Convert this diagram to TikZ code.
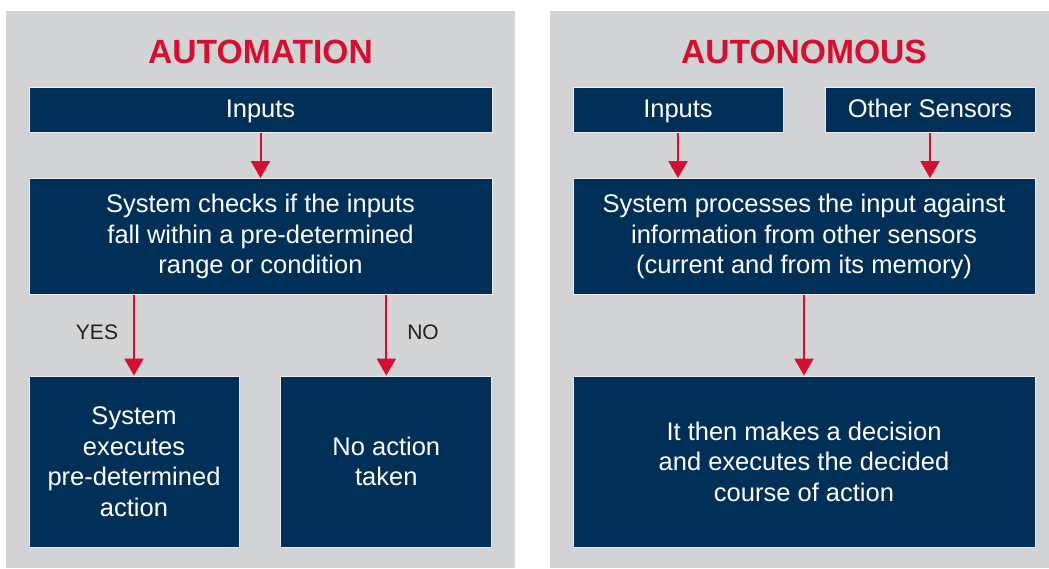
\documentclass[tikz,border=0pt]{standalone}
\usepackage{fontspec}
\setmainfont{Liberation Sans}
\usetikzlibrary{arrows.meta}
\definecolor{navy}{HTML}{003057}
\definecolor{panelgray}{HTML}{D1D3D4}
\definecolor{ared}{HTML}{D50F32}
\definecolor{lbl}{HTML}{231F20}
\tikzset{
  panel/.style={fill=panelgray, draw=none},
  box/.style={fill=navy, draw=white!85!gray, line width=0.8pt, text=white, align=center,
    inner sep=0pt, font=\fontsize{25.5}{30.5}\selectfont},
  onebox/.style={box, text height=19pt, text depth=5pt},
  ttl/.style={text=ared, font=\bfseries\fontsize{33.6}{40}\selectfont, anchor=base, inner sep=0pt},
  lab/.style={text=lbl, font=\fontsize{21}{25}\selectfont, inner sep=0pt},
  redarrow/.style={draw=ared, line width=2pt, -{Triangle[width=19pt,length=17pt]}}
}
\begin{document}
\begin{tikzpicture}[x=1pt,y=-1pt]
\useasboundingbox (0,0) rectangle (1049,568);
\fill[panel] (6,11) rectangle (515,568);
\fill[panel] (550,11) rectangle (1049,568);
% left panel
\node[ttl] (t1) at (260.5,63) {AUTOMATION};
\node[onebox, minimum width=463pt, minimum height=45.5pt] (in1) at (260.5,110) {Inputs};
\node[box, minimum width=463pt, minimum height=116pt] (chk) at (260.5,236.5) {\raisebox{-2pt}{\parbox{440pt}{\centering System checks if the inputs\\fall within a pre-determined\\range or condition}}};
\node[box, minimum width=210pt, minimum height=171pt] (yes) at (134,461.5) {System\\executes\\pre-determined\\action};
\node[box, minimum width=211pt, minimum height=171pt] (no) at (386.3,461.5) {No action\\taken};
\draw[redarrow] (in1.south) -- (chk.north);
\draw[redarrow] (chk.south -| yes.north) -- (yes.north);
\draw[redarrow] (chk.south -| no.north) -- (no.north);
\node[lab] (ly) at (97,332) {YES};
\node[lab] (ln) at (423,332) {NO};
% right panel
\node[ttl] (t2) at (804,63) {AUTONOMOUS};
\node[onebox, minimum width=210pt, minimum height=45.5pt] (in2) at (678,110) {Inputs};
\node[onebox, minimum width=210pt, minimum height=45.5pt] (sen) at (930,110) {Other Sensors};
\node[box, minimum width=462pt, minimum height=116pt] (proc) at (804,236.5) {\raisebox{-2pt}{\parbox{440pt}{\centering System processes the input against\\information from other sensors\\(current and from its memory)}}};
\node[box, minimum width=462pt, minimum height=171pt] (dec) at (804,461.5) {It then makes a decision\\and executes the decided\\course of action};
\draw[redarrow] (in2.south) -- (in2.south |- proc.north);
\draw[redarrow] (sen.south) -- (sen.south |- proc.north);
\draw[redarrow] (proc.south) -- (dec.north);
\end{tikzpicture}
\end{document}
